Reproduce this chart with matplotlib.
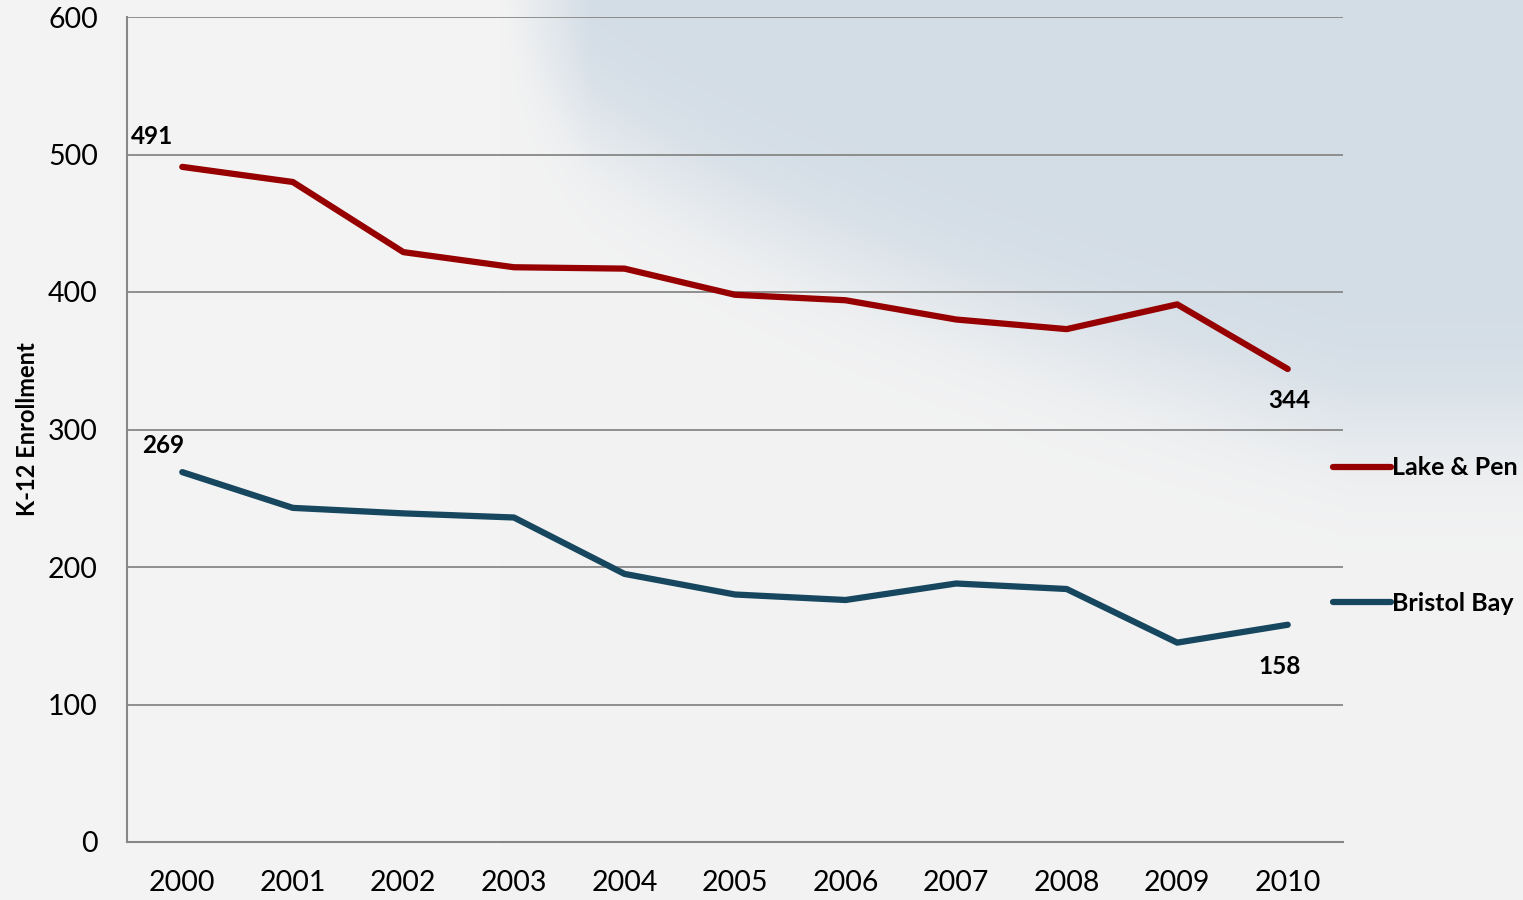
import numpy as np
import matplotlib
matplotlib.use("Agg")
import matplotlib.pyplot as plt

# data
years = [2000, 2001, 2002, 2003, 2004, 2005, 2006, 2007, 2008, 2009, 2010]
lake_pen = [491, 480, 429, 418, 417, 398, 394, 380, 373, 391, 344]
bristol_bay = [269, 243, 239, 236, 195, 180, 176, 188, 184, 145, 158]
yticks = [0, 100, 200, 300, 400, 500, 600]

red = "#960000"
blue = "#17465f"
grid = "#878787"

plt.rcParams["font.family"] = ["Lato", "DejaVu Sans"]

W, H = 1523, 900
fig = plt.figure(figsize=(W / 100, H / 100), dpi=100)

# soft sky background: light gray with a bluish patch top right
bg = fig.add_axes([0, 0, 1, 1], zorder=-10)
xx, yy = np.meshgrid(np.arange(W), np.arange(H))
t = np.clip((xx - 500) / 850.0, 0, 1) ** 0.55
yb = 430 * t
mask = 1 / (1 + np.exp(-(yb - yy) / 35.0))
mask *= np.clip((xx - 500) / 90.0, 0, 1)
base = np.array([0xf3, 0xf3, 0xf3]) / 255
sky = np.array([0xd3, 0xdd, 0xe6]) / 255
img = base[None, None, :] * (1 - mask[..., None]) + sky[None, None, :] * mask[..., None]
bg.imshow(img, aspect="auto", extent=[0, 1, 0, 1], origin="upper")
bg.axis("off")

ax = fig.add_axes([127 / W, 1 - 842 / H, 1216 / W, 825 / H])
ax.patch.set_alpha(0)

ax.plot(years, lake_pen, color=red, lw=4.5, solid_capstyle="round",
        solid_joinstyle="round", label="Lake & Pen", zorder=3)
ax.plot(years, bristol_bay, color=blue, lw=4.5, solid_capstyle="round",
        solid_joinstyle="round", label="Bristol Bay", zorder=3)

ax.set_xlim(1999.5, 2010.5)
ax.set_ylim(0, 600)
ax.set_xticks(years)
ax.set_yticks(yticks)
ax.tick_params(axis="both", length=0, labelsize=20.5)
ax.tick_params(axis="y", pad=21)
ax.tick_params(axis="x", pad=20)
ax.yaxis.grid(True, color=grid, lw=1.3)
ax.set_axisbelow(True)
for s in ["top", "right"]:
    ax.spines[s].set_visible(False)
for s in ["left", "bottom"]:
    ax.spines[s].set_color(grid)
    ax.spines[s].set_linewidth(1.5)

ax.set_ylabel("K-12 Enrollment", fontsize=17, fontweight="bold")
ax.yaxis.set_label_coords(-0.072, 0.5)

# end-point data labels
lbl = dict(fontsize=17.5, fontweight="bold", ha="center", va="center")
ax.annotate(str(lake_pen[0]), (years[0], lake_pen[0]), xytext=(-22, 22),
            textcoords="offset points", **lbl)
ax.annotate(str(bristol_bay[0]), (years[0], bristol_bay[0]), xytext=(-14, 19),
            textcoords="offset points", **lbl)
ax.annotate(str(lake_pen[-1]), (years[-1], lake_pen[-1]), xytext=(1, -23),
            textcoords="offset points", **lbl)
ax.annotate(str(bristol_bay[-1]), (years[-1], bristol_bay[-1]), xytext=(-6, -30),
            textcoords="offset points", **lbl)

leg = ax.legend(loc="center left", bbox_to_anchor=(0.992, 0.3715), frameon=False,
                borderaxespad=0, borderpad=0, handlelength=2.3, handletextpad=0.05,
                labelspacing=4.5, prop={"size": 18, "weight": "bold"})

fig.savefig("out.png", dpi=100)
